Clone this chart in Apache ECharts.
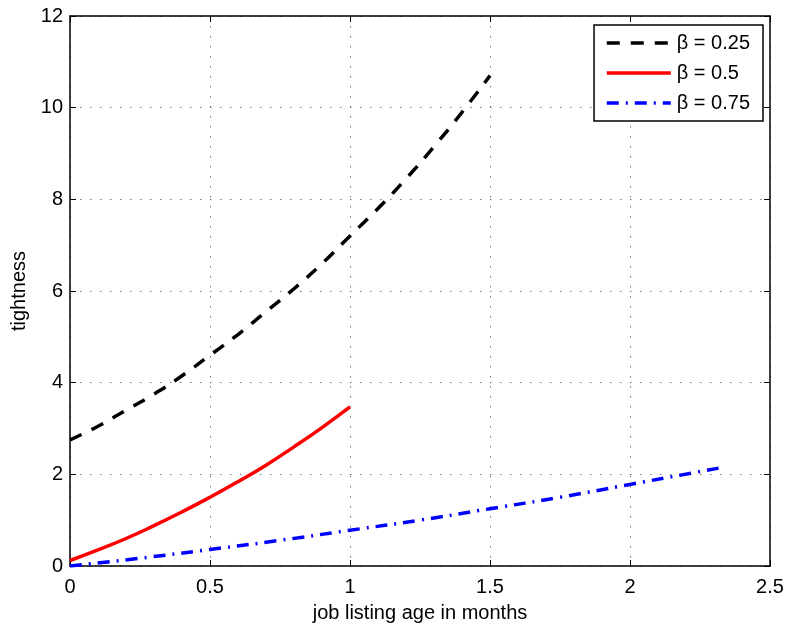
<!DOCTYPE html>
<html><head><meta charset="utf-8">
<script src="https://cdn.jsdelivr.net/npm/echarts@6/dist/echarts.min.js"></script>
<style>html,body{margin:0;padding:0;background:#fff}#c{width:789px;height:631px}</style>
</head><body><div id="c"></div>
<script>
const xTicks = [0, 0.5, 1, 1.5, 2, 2.5];
const yTicks = [0, 2, 4, 6, 8, 10, 12];
const seriesNames = ['β = 0.25', 'β = 0.5', 'β = 0.75'];
const x025 = [0, 0.1, 0.2, 0.3, 0.4, 0.5, 0.6, 0.7, 0.8, 0.9, 1.0, 1.1, 1.2, 1.3, 1.4, 1.5];
const y025 = [2.75, 3.05, 3.4, 3.75, 4.15, 4.6, 5.05, 5.55, 6.05, 6.6, 7.2, 7.8, 8.45, 9.15, 9.9, 10.7];
const x05 = [0, 0.1, 0.2, 0.3, 0.4, 0.5, 0.6, 0.7, 0.8, 0.9, 1.0];
const y05 = [0.12, 0.35, 0.6, 0.88, 1.18, 1.5, 1.84, 2.2, 2.6, 3.02, 3.47];
const x075 = [0, 0.25, 0.5, 0.75, 1.0, 1.25, 1.5, 1.75, 2.0, 2.32];
const y075 = [0, 0.17, 0.36, 0.56, 0.78, 1.0, 1.25, 1.5, 1.78, 2.14];

const pairs = (xs, ys) => xs.map((x, i) => [x, ys[i]]);
const font = 'Liberation Sans, Arial, sans-serif';
const chart = echarts.init(document.getElementById('c'));
const gridLine = {show: true, lineStyle: {color: '#777', width: 1, type: [1.5, 8.5]}};
const axisLine = {show: true, onZero: false, lineStyle: {color: '#000', width: 1.5}};
const tick = {show: true, inside: true, length: 6, lineStyle: {color: '#000', width: 1}};
chart.setOption({
  animation: false,
  grid: {left: 70, right: 19, top: 16, bottom: 65},
  legend: {
    right: 26, top: 25, orient: 'vertical', itemWidth: 64, itemHeight: 14, itemGap: 10,
    borderColor: '#000', borderWidth: 1.5, padding: [8, 13, 8, 11],
    backgroundColor: '#fff',
    itemStyle: {opacity: 0},
    lineStyle: {width: 3.5},
    textStyle: {fontFamily: font, fontSize: 20, color: '#000', padding: [0, 0, 0, 1]},
    data: seriesNames
  },
  xAxis: [{
    type: 'value', min: 0, max: 2.5, interval: 0.5,
    name: 'job listing age in months', nameLocation: 'middle', nameGap: 37,
    nameTextStyle: {fontFamily: font, fontSize: 20, color: '#000'},
    axisLine: axisLine, axisTick: tick,
    axisLabel: {fontFamily: font, fontSize: 20, color: '#000', margin: 11,
      formatter: v => xTicks.includes(v) ? String(v) : ''},
    splitLine: gridLine
  }, {
    type: 'value', position: 'top', min: 0, max: 2.5, interval: 0.5,
    axisLine: axisLine, axisTick: tick,
    axisLabel: {show: false}, splitLine: {show: false}
  }],
  yAxis: [{
    type: 'value', min: 0, max: 12, interval: 2,
    name: 'tightness', nameLocation: 'middle', nameGap: 40, nameRotate: 90,
    nameTextStyle: {fontFamily: font, fontSize: 20, color: '#000'},
    axisLine: axisLine, axisTick: tick,
    axisLabel: {fontFamily: font, fontSize: 20, color: '#000', margin: 7,
      formatter: v => yTicks.includes(v) ? String(v) : ''},
    splitLine: gridLine
  }, {
    type: 'value', position: 'right', min: 0, max: 12, interval: 2,
    axisLine: axisLine, axisTick: tick,
    axisLabel: {show: false}, splitLine: {show: false}
  }],
  series: [{
    name: seriesNames[0], type: 'line', smooth: true, symbol: 'none',
    data: pairs(x025, y025), color: '#000',
    lineStyle: {color: '#000', width: 3.5, type: [13, 11]}
  }, {
    name: seriesNames[1], type: 'line', smooth: true, symbol: 'none',
    data: pairs(x05, y05), color: '#f00',
    lineStyle: {color: '#f00', width: 3.5, type: 'solid'}
  }, {
    name: seriesNames[2], type: 'line', smooth: true, symbol: 'none',
    data: pairs(x075, y075), color: '#00f',
    lineStyle: {color: '#00f', width: 3.5, type: [12, 7, 2, 7]}
  }]
});
</script></body></html>
